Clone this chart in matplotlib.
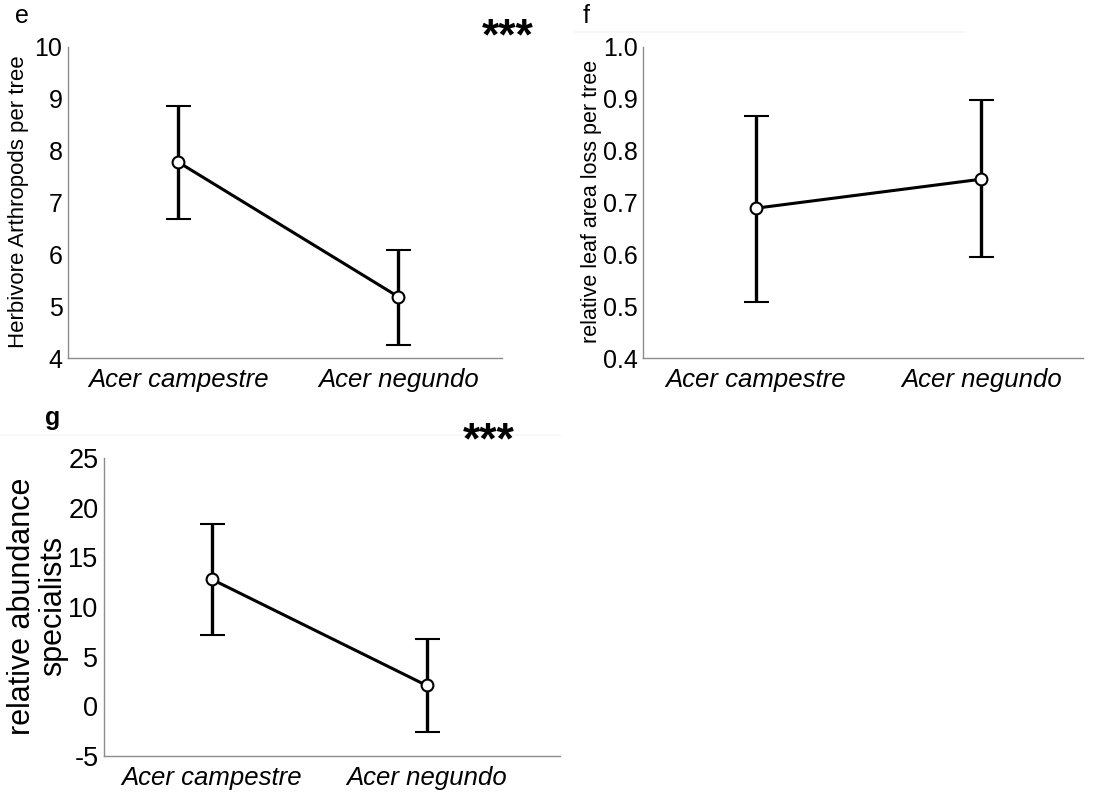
import numpy as np
import matplotlib.pyplot as plt

plt.rcParams['font.family'] = ['Liberation Sans', 'DejaVu Sans']

species = ['Acer campestre', 'Acer negundo']

# panel e
herb_mean = [7.78, 5.18]
herb_upper = [8.87, 6.08]
herb_lower = [6.68, 4.25]

# panel f
leaf_mean = [0.689, 0.745]
leaf_upper = [0.867, 0.897]
leaf_lower = [0.508, 0.594]

# panel g
spec_mean = [12.8, 2.1]
spec_upper = [18.4, 6.8]
spec_lower = [7.2, -2.6]

W, H = 1102, 794
fig = plt.figure(figsize=(W / 100, H / 100), dpi=100)


def px_axes(left, top, right, bottom):
    return fig.add_axes([left / W, 1 - bottom / H, (right - left) / W, (bottom - top) / H])


def panel(ax, mean, upper, lower, ylim, yticks, yticklabels, ylabel, ylab_size,
          tick_size, xlim, lab_x):
    x = np.arange(len(mean))
    mean = np.array(mean)
    yerr = [mean - np.array(lower), np.array(upper) - mean]
    ax.errorbar(x, mean, yerr=yerr, color='black', lw=2.2, elinewidth=2.4,
                capsize=9, capthick=2.4, marker='o', ms=8.5, mfc='white',
                mec='black', mew=1.5, zorder=3)
    ax.set_xlim(*xlim)
    ax.set_ylim(*ylim)
    ax.set_yticks(yticks)
    ax.set_yticklabels(yticklabels, fontsize=tick_size)
    ax.set_xticks(x)
    ax.set_xticklabels(species, fontsize=18.5, style='italic')
    ax.tick_params(length=0, pad=4)
    ax.tick_params(axis='x', pad=7)
    for s in ['top', 'right']:
        ax.spines[s].set_visible(False)
    for s in ['left', 'bottom']:
        ax.spines[s].set_color('#8c8c8c')
        ax.spines[s].set_linewidth(1.0)
    ax.set_ylabel(ylabel, fontsize=ylab_size, linespacing=1.05)
    ax.yaxis.set_label_coords(lab_x, 0.503)
    ax.yaxis.label.set_verticalalignment('center')


# faint frame edges left over from the original panels
fig.add_artist(plt.Line2D([575 / W, 965 / W], [1 - 32 / H, 1 - 32 / H],
                          color='#f7f7f7', lw=1.5))
fig.add_artist(plt.Line2D([0, 560 / W], [1 - 435 / H, 1 - 435 / H],
                          color='#f8f8f8', lw=1.5))

# e
ax_e = px_axes(68, 47, 502, 358)
panel(ax_e, herb_mean, herb_upper, herb_lower, (4, 10), np.arange(4, 11),
      [str(v) for v in range(4, 11)], 'Herbivore Arthropods per tree', 16, 18,
      (-0.5, 1.47), -0.113)
fig.text(15 / W, 1 - 16 / H, 'e', fontsize=18, va='center')
fig.text(508 / W, 1 - 38 / H, '***', fontsize=32, fontweight='bold',
         ha='center', va='center')

# f
ax_f = px_axes(643, 47, 1083, 358)
ftick = np.round(np.arange(0.4, 1.01, 0.1), 1)
panel(ax_f, leaf_mean, leaf_upper, leaf_lower, (0.4, 1.0), ftick,
      ['%.1f' % v for v in ftick], 'relative leaf area loss per tree', 15.5, 18,
      (-0.5, 1.45), -0.116)
fig.text(583 / W, 1 - 16 / H, 'f', fontsize=18, va='center')

# g
ax_g = px_axes(104, 458, 560, 756)
gtick = np.arange(-5, 26, 5)
panel(ax_g, spec_mean, spec_upper, spec_lower, (-5, 25), gtick,
      [str(v) for v in gtick], 'relative abundance\nspecialists', 22, 19.5,
      (-0.5, 1.62), -0.146)
fig.text(45 / W, 1 - 418 / H, 'g', fontsize=18, fontweight='bold', va='center')
fig.text(489 / W, 1 - 442 / H, '***', fontsize=32, fontweight='bold',
         ha='center', va='center')

fig.savefig('out.png', dpi=100)
